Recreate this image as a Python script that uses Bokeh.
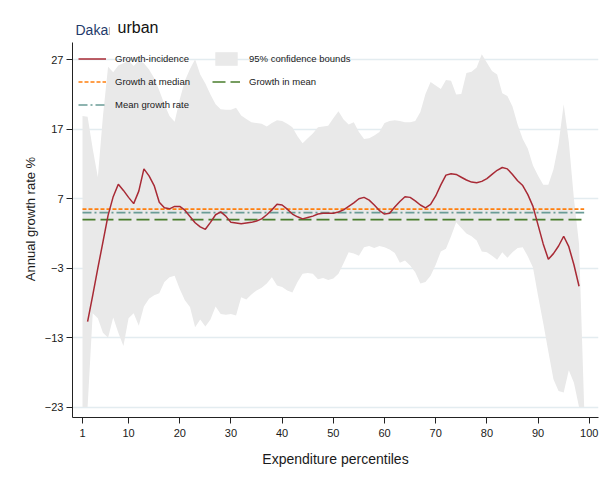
from bokeh.plotting import figure
from bokeh.models import Range1d, FixedTicker, Label, Legend, LegendItem
from bokeh.embed import file_html
from bokeh.resources import INLINE

# Percentiles covered by the confidence band and by the growth-incidence curve
band_pct = list(range(1, 100))
gic_pct = list(range(2, 99))

# 95% confidence bounds (annual growth rate, %)
ci_upper = [18.9, 18.8, 14.2, 10.1, 18.9, 26.0, 25.2, 26.2, 26.5, 26.9,
            26.1, 26.9, 26.5, 25.6, 24.4, 22.6, 20.6, 18.9, 18.1, 21.3,
            24.0, 25.7, 27.1, 24.9, 23.6, 22.0, 20.6, 19.9, 19.8, 19.8,
            20.1, 19.0, 18.5, 18.0, 17.9, 17.8, 17.4, 17.9, 18.3, 18.2,
            17.8, 17.3, 16.0, 15.0, 15.7, 16.4, 17.3, 17.4, 17.5, 18.6,
            19.6, 18.4, 17.7, 18.0, 16.6, 15.6, 15.7, 16.1, 16.6, 17.9,
            18.2, 18.3, 18.2, 18.0, 18.0, 18.2, 19.5, 22.1, 23.8, 23.3,
            22.8, 24.1, 24.0, 22.0, 22.1, 25.1, 25.3, 25.9, 27.8, 26.6,
            25.4, 24.9, 22.2, 21.8, 20.3, 17.7, 15.6, 14.2, 11.8, 10.3,
            9.0, 9.0, 11.2, 14.9, 20.6, 15.2, 7.0, 0.5, -23.0]
ci_lower = [-23.0, -23.0, -9.5, -10.2, -12.3, -13.0, -10.1, -12.3, -14.2, -10.2,
            -9.5, -11.3, -8.5, -7.4, -6.9, -6.6, -5.0, -4.3, -4.1, -6.0,
            -7.6, -8.6, -11.5, -10.4, -11.4, -10.4, -8.5, -9.6, -9.7, -9.6,
            -9.8, -7.2, -7.5, -6.8, -6.2, -5.8, -5.2, -4.3, -5.5, -5.7,
            -6.2, -6.5, -5.0, -3.8, -3.7, -3.8, -4.6, -4.4, -4.7, -4.5,
            -3.8, -2.3, -0.7, -0.9, -1.2, 0.0, 0.2, -0.1, 0.2, 0.0,
            -0.3, -0.8, -2.2, -1.9, -2.6, -3.6, -5.2, -5.0, -4.1, -2.5,
            -0.6, -0.2, 1.6, 3.6, 2.8, 2.0, 1.6, 1.0, -0.6, -0.7,
            -1.2, -1.8, -0.7, -1.5, -0.7, -0.1, 0.0, -1.3, -2.9, -7.0,
            -10.9, -15.0, -19.0, -20.7, -20.9, -17.7, -19.5, -23.0, -23.0]

# Growth-incidence curve
gic = [-10.7, -6.9, -3.0, 0.8, 4.6, 7.3, 9.1, 8.2, 7.2,
       6.3, 8.1, 11.3, 10.3, 8.9, 6.5, 5.7, 5.55, 5.9, 5.9,
       5.35, 4.45, 3.55, 2.95, 2.6, 3.6, 4.7, 5.1, 4.5, 3.6,
       3.5, 3.4, 3.5, 3.6, 3.8, 4.1, 4.7, 5.4, 6.2, 6.1,
       5.5, 4.8, 4.4, 4.1, 4.3, 4.5, 4.8, 4.9, 4.9, 4.9,
       5.1, 5.4, 5.9, 6.4, 7.0, 7.2, 6.8, 6.1, 5.3, 4.8,
       4.9, 5.8, 6.6, 7.3, 7.2, 6.7, 6.1, 5.7, 6.2, 7.4,
       9.0, 10.4, 10.6, 10.5, 10.1, 9.7, 9.4, 9.3, 9.5, 9.9,
       10.5, 11.1, 11.5, 11.3, 10.5, 9.6, 8.9, 7.6, 5.9, 3.2,
       0.5, -1.7, -0.9, 0.2, 1.6, 0.1, -2.5, -5.6]

# Summary growth rates
growth_at_median = 5.5
mean_growth_rate = 5.0
growth_in_mean = 4.0

x_ticks = [1, 10, 20, 30, 40, 50, 60, 70, 80, 90, 100]
y_ticks = [-23, -13, -3, 7, 17, 27]

FONT = "Liberation Sans"

# The frame reaches up to the heading; the y axis line stops at 29.5
Y_LOW, Y_AXIS_TOP, Y_FRAME_TOP = -24.5, 29.5, 32.67

p = figure(width=611, height=483, output_backend="svg", toolbar_location=None,
           x_range=Range1d(-0.95, 101.8), y_range=Range1d(Y_LOW, Y_FRAME_TOP),
           min_border_left=72, min_border_right=13, min_border_top=20,
           min_border_bottom=66)
p.outline_line_color = None
p.background_fill_color = "white"
p.border_fill_color = "white"

# Axes
p.xaxis.ticker = FixedTicker(ticks=x_ticks)
p.yaxis.ticker = FixedTicker(ticks=y_ticks)
p.yaxis.bounds = (Y_LOW, Y_AXIS_TOP)
for ax in (p.xaxis[0], p.yaxis[0]):
    ax.axis_line_color = "#222222"
    ax.major_tick_line_color = "#222222"
    ax.major_tick_out = 6
    ax.major_tick_in = 0
    ax.minor_tick_line_color = None
    ax.major_label_text_font = FONT
    ax.major_label_text_font_size = "11px"
    ax.major_label_text_color = "#1a1a1a"
    ax.axis_label_text_font = FONT
    ax.axis_label_text_font_style = "normal"
    ax.axis_label_text_color = "#1a1a1a"
p.xaxis.axis_label = "Expenditure percentiles"
p.xaxis.axis_label_text_font_size = "14px"
p.xaxis.major_label_standoff = 5
p.xaxis.axis_label_standoff = 11
p.yaxis.axis_label = "Annual growth rate %"
p.yaxis.axis_label_text_font_size = "13px"
p.yaxis.major_label_standoff = 3
p.yaxis.axis_label_standoff = 4

p.xgrid.grid_line_color = None
p.ygrid.grid_line_color = "#e3ecf0"
p.ygrid.grid_line_width = 1.3

# Confidence band
r_band = p.varea(x=band_pct, y1=ci_lower, y2=ci_upper, fill_color="#e9e9e9")

# Horizontal reference lines across the band's percentile span
span = [band_pct[0], band_pct[-1]]
r_med = p.line(span, [growth_at_median] * 2, line_color="#ff7f0e",
               line_width=1.6, line_dash="4 2")
r_mgr = p.line(span, [mean_growth_rate] * 2, line_color="#6a9c96",
               line_width=1.6, line_dash="9 3 2 3")
r_gim = p.line(span, [growth_in_mean] * 2, line_color="#4a7d2d",
               line_width=1.6, line_dash="13 5")

# Growth-incidence curve
r_gic = p.line(gic_pct, gic, line_color="#a82a35", line_width=1.5)

legend = Legend(items=[
    LegendItem(label="Growth-incidence", renderers=[r_gic]),
    LegendItem(label="95% confidence bounds", renderers=[r_band]),
    LegendItem(label="Growth at median", renderers=[r_med]),
    LegendItem(label="Growth in mean", renderers=[r_gim]),
    LegendItem(label="Mean growth rate", renderers=[r_mgr]),
], orientation="horizontal", ncols=2, location=(6, 304))
legend.background_fill_alpha = 0
legend.border_line_alpha = 0
legend.padding = 0
legend.margin = 0
legend.glyph_width = 28
legend.glyph_height = 17
legend.label_standoff = 9
legend.label_width = 91
legend.spacing = 6
legend.label_text_font = FONT
legend.label_text_font_size = "9.5px"
legend.label_text_color = "#1a1a1a"
legend.label_height = 12
p.add_layout(legend)

# Heading: place name partly covered by the area label
p.add_layout(Label(x=3, y=380, x_units="screen", y_units="screen",
                   text="Dakar", text_font=FONT, text_font_size="14px",
                   text_color="#1f3b6b"))
p.add_layout(Label(x=37, y=374, x_units="screen", y_units="screen",
                   text="urban", text_font=FONT, text_font_size="16px",
                   text_color="#111111", background_fill_color="white",
                   padding=8))

open("out.html", "w").write(file_html(p, INLINE))
